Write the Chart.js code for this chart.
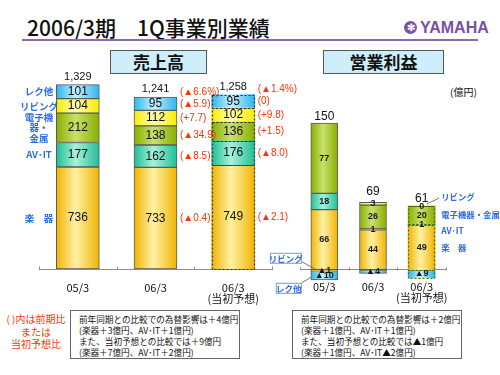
<!DOCTYPE html>
<html lang="ja">
<head>
<meta charset="utf-8">
<title>2006/3期 1Q事業別業績</title>
<script src="https://cdn.jsdelivr.net/npm/chart.js@4.4.1/dist/chart.umd.min.js"></script>
<style>
  html, body { margin: 0; padding: 0; background: #fff; }
  #page { position: relative; width: 500px; height: 375px; overflow: hidden;
          font-family: 'Noto Sans CJK JP', sans-serif; color: #111; }
  #page > * { position: absolute; }
  #title { left: 27px; top: 14px; font-size: 21px; line-height: 26px; font-weight: 500; white-space: nowrap; }
  #rule { left: 22px; top: 39px; width: 456px; height: 2px; background: #8a6bb0; }
  #logo { left: 404px; top: 19px; height: 17px; display: flex; align-items: center; color: #7a4fa6;
          font: bold 16px 'Liberation Sans Narrow', 'Liberation Sans', sans-serif; }
  #logo .mark { width: 13px; height: 13px; border-radius: 50%; background: #7a4fa6; color: #fff;
                font-size: 10px; line-height: 13px; text-align: center; margin-right: 3px; }
  .head { top: 50px; height: 22px; background: #cfeefc; border: 1px solid #555; text-align: center;
          font-size: 17px; font-weight: bold; line-height: 22px; }
  #unit { left: 450px; top: 85px; font-size: 10px; line-height: 14px; }
  #redNote { left: 4px; top: 313px; width: 64px; text-align: center; color: #ff3300; font-size: 10px; line-height: 12.5px; }
  .box { top: 310px; width: 160px; height: 39px; padding: 3px 0 5px 8px; border: 1px solid #666;
         font-size: 8.6px; line-height: 11px; white-space: nowrap; }
  canvas { display: block; }
</style>
</head>
<body>
<div id="page">
  <div id="title">2006/3期　1Q事業別業績</div>
  <div id="rule"></div>
  <div id="logo"><span class="mark">✻</span>YAMAHA</div>
  <div class="head" style="left:110px;width:95px">売上高</div>
  <div class="head" style="left:323px;width:119px">営業利益</div>
  <div id="unit">(億円)</div>
  <div id="redNote">( )内は前期比<br>または<br>当初予想比</div>
  <div class="box" style="left:70px">前年同期との比較での為替影響は＋4億円<br>(楽器＋3億円、AV･IT＋1億円)<br>また、当初予想との比較では＋9億円<br>(楽器＋7億円、AV･IT＋2億円)</div>
  <div class="box" style="left:292px">前年同期との比較での為替影響は＋2億円<br>(楽器＋1億円、AV･IT＋1億円)<br>また、当初予想との比較では▲1億円<br>(楽器＋1億円、AV･IT▲2億円)</div>
  <canvas id="sales" width="300" height="310" style="left:0;top:0"></canvas>
  <canvas id="profit" width="240" height="210" style="left:260px;top:100px"></canvas>
</div>
<script>
const categories = ['05/3', '06/3', ['06/3', '(当初予想)']];
const segmentNames = ['楽器', 'AV･IT', '電子機器・金属', 'リビング', 'レク他'];

// 売上高 (億円), segments bottom -> top
const salesGakki  = [736, 733, 749];
const salesAvit   = [177, 162, 176];
const salesDenshi = [212, 138, 136];
const salesLiving = [104, 112, 102];
const salesRec    = [101, 95, 95];
const salesTotals = [1329, 1241, 1258];
// 前期比 (06/3) / 当初予想比 (06/3 当初予想)
const salesVsPrev  = ['▲0.4', '▲8.5', '▲34.9', '+7.7', '▲5.9'];
const salesVsPlan  = ['▲2.1', '▲8.0', '+1.5', '+9.8', '0'];
const salesTotalVs = ['', '▲6.6%', '▲1.4%'];

// 営業利益 (億円)
const profitGakki  = [66, 44, 49];
const profitAvit   = [18, 1, 1];
const profitDenshi = [77, 26, 20];
const profitLiving = [-1, 3, 0];
const profitRec    = [-10, -4, -9];
const profitTotals = [150, 69, 61];

const salesSideLabels  = ['楽　器', 'AV･IT', ['電子機', '器・', '金属'], 'リビング', 'レク他'];
const profitSideLabels = ['楽　器', 'AV･IT', '電子機器・金属', 'リビング'];

const FONT = "'Noto Sans CJK JP', 'Liberation Sans', sans-serif";
const NUM = "'Liberation Sans', 'Noto Sans CJK JP', sans-serif";
const BLUE = '#2c6ce6';
const RED = '#ff3300';
const SEG_COLORS = [
  ['#f0b400', '#fff1a6'],
  ['#20bd96', '#aaf0da'],
  ['#88ae00', '#cae06c'],
  ['#f5ec00', '#ffffb4'],
  ['#2ab6ee', '#c6f0ff'],
];

// horizontal light-in-the-middle gradient for each bar
function shade(pair, w) {
  return (c) => {
    if (c.type !== 'data' || !c.chart.scales.x) return pair[0];
    const cx = c.chart.scales.x.getPixelForValue(c.dataIndex);
    if (!Number.isFinite(cx)) return pair[0];
    const g = c.chart.ctx.createLinearGradient(cx - w / 2, 0, cx + w / 2, 0);
    g.addColorStop(0, pair[0]);
    g.addColorStop(0.45, pair[1]);
    g.addColorStop(1, pair[0]);
    return g;
  };
}

function makeDatasets(series, w) {
  return series.map((data, i) => ({
    label: segmentNames[i],
    data,
    backgroundColor: shade(SEG_COLORS[i], w),
    borderColor: '#5a5a5a',
    borderWidth: (c) => (c.dataIndex === 2 ? 0 : 1), // forecast bar gets a dotted outline instead
    borderSkipped: false,
    barThickness: w,
  }));
}

function baseOptions(pad, yMin, yMax, tickPad) {
  return {
    responsive: false,
    animation: false,
    events: [],
    layout: { padding: pad },
    plugins: { legend: { display: false }, tooltip: { enabled: false } },
    scales: {
      x: {
        stacked: true,
        position: { y: 0 },
        offset: true,
        grid: { display: false, drawTicks: false },
        border: { display: true, color: '#8c8c8c', width: 1 },
        ticks: { color: '#111', padding: tickPad, maxRotation: 0, autoSkip: false,
                 font: { size: 11, family: FONT, lineHeight: 1.0 } },
      },
      y: { stacked: true, display: false, min: yMin, max: yMax },
    },
  };
}

function text(ctx, s, x, y, font, color, align) {
  ctx.font = font;
  ctx.fillStyle = color;
  ctx.textAlign = align || 'center';
  ctx.textBaseline = 'middle';
  ctx.fillText(s, x, y);
}

function line(ctx, x1, y1, x2, y2, color) {
  ctx.save();
  ctx.strokeStyle = color;
  ctx.lineWidth = 1;
  ctx.beginPath();
  ctx.moveTo(x1, y1);
  ctx.lineTo(x2, y2);
  ctx.stroke();
  ctx.restore();
}

function segMid(p) { return (p.y + p.base) / 2; }

function collect(chart) {
  const cols = [];
  chart.data.datasets.forEach((ds, d) => {
    chart.getDatasetMeta(d).data.forEach((el, j) => {
      (cols[j] = cols[j] || [])[d] = el.getProps(['x', 'y', 'base', 'width'], true);
    });
  });
  return cols;
}

// small upward tick marks at category boundaries
function axisTicks(chart) {
  const xs = chart.scales.x;
  const y0 = Math.round(chart.scales.y.getPixelForValue(0)) + 0.5;
  const step = xs.getPixelForValue(1) - xs.getPixelForValue(0);
  for (let i = 0; i <= categories.length; i++) {
    const x = Math.round(xs.getPixelForValue(0) - step / 2 + i * step) + 0.5;
    line(chart.ctx, x, y0, x, y0 - 3, '#8c8c8c');
  }
}

function dottedBox(ctx, p, color) {
  const top = Math.min(p.y, p.base);
  const bot = Math.max(p.y, p.base);
  ctx.save();
  ctx.setLineDash([2, 2]);
  ctx.strokeStyle = color;
  ctx.lineWidth = 1.2;
  ctx.strokeRect(Math.round(p.x - p.width / 2) + 0.5, Math.round(top) + 0.5, Math.round(p.width) - 1, Math.round(bot - top));
  ctx.restore();
}

function callout(ctx, label, x, y, w, h) {
  ctx.save();
  ctx.fillStyle = '#fff';
  ctx.fillRect(x, y, w, h);
  ctx.strokeStyle = '#7f9cc8';
  ctx.strokeRect(x + 0.5, y + 0.5, w - 1, h - 1);
  ctx.restore();
  text(ctx, label, x + w / 2, y + h / 2, 'bold 8.5px ' + FONT, BLUE);
}

const salesLabels = {
  id: 'salesLabels',
  afterDatasetsDraw(chart) {
    const ctx = chart.ctx;
    const cols = collect(chart);
    axisTicks(chart);
    cols.forEach((col, j) => {
      if (j === 2) col.forEach((p) => dottedBox(ctx, p, '#333'));
      col.forEach((p, d) => text(ctx, String(chart.data.datasets[d].data[j]), p.x, segMid(p), '12px ' + NUM, '#111'));
      const top = Math.min(...col.map((p) => p.y));
      text(ctx, salesTotals[j].toLocaleString('en-US'), col[0].x, top - 8, '11px ' + NUM, '#111');
      const notes = j === 1 ? salesVsPrev : j === 2 ? salesVsPlan : null;
      if (notes) {
        const xr = col[0].x + col[0].width / 2 + 3;
        col.forEach((p, d) => text(ctx, '(' + notes[d] + ')', xr, segMid(p), '10px ' + NUM, RED, 'left'));
        text(ctx, '(' + salesTotalVs[j] + ')', xr, top - 5, '10px ' + NUM, RED, 'left');
      }
    });
    cols[0].forEach((p, d) => {
      const lab = salesSideLabels[d];
      const lines = Array.isArray(lab) ? lab : [lab];
      lines.forEach((s, k) => text(ctx, s, 39, segMid(p) + (k - (lines.length - 1) / 2) * 10.5, 'bold 9.5px ' + FONT, BLUE));
    });
  },
};

const profitLabels = {
  id: 'profitLabels',
  afterDatasetsDraw(chart) {
    const ctx = chart.ctx;
    const cols = collect(chart);
    const y0 = chart.scales.y.getPixelForValue(0);
    axisTicks(chart);
    cols.forEach((col, j) => {
      if (j === 2) col.forEach((p) => dottedBox(ctx, p, '#4b7000'));
      col.forEach((p, d) => {
        const v = chart.data.datasets[d].data[j];
        text(ctx, v < 0 ? '▲' + (-v) : String(v), p.x, segMid(p), 'bold 9px ' + NUM, '#1a1a1a');
      });
      const topP = col.reduce((a, p) => (Math.min(p.y, p.base) < Math.min(a.y, a.base) ? p : a));
      const top = Math.min(topP.y, topP.base);
      const lift = Math.abs(topP.base - topP.y) < 5 ? 11 : 7;
      text(ctx, String(profitTotals[j]), col[0].x, top - lift, '12px ' + NUM, '#111');
    });
    // right-hand segment names next to the forecast bar
    const fc = cols[2];
    const xl = fc[0].x + fc[0].width / 2 + 6;
    const offs = [0, 6, 0, -9];
    profitSideLabels.forEach((s, d) => text(ctx, s, xl, segMid(fc[d]) + offs[d], 'bold 8.4px ' + FONT, BLUE, 'left'));
    line(ctx, fc[3].x + 5, segMid(fc[3]) - 2, xl - 2, segMid(fc[3]) - 8, '#777');
    // callouts for the tiny negative segments of 05/3
    const left0 = cols[0][0].x - cols[0][0].width / 2;
    callout(ctx, 'リビング', left0 - 41, y0 - 17, 32, 11);
    line(ctx, left0 - 9, y0 - 8, left0 + 4, y0 - 1, '#777');
    callout(ctx, 'レク他', left0 - 35, y0 + 13, 26, 11);
    line(ctx, left0 - 9, y0 + 13, left0 + 1, y0 + 7, '#777');
  },
};

new Chart(document.getElementById('sales'), {
  type: 'bar',
  data: {
    labels: categories,
    datasets: makeDatasets([salesGakki, salesAvit, salesDenshi, salesLiving, salesRec], 43),
  },
  options: baseOptions({ left: 39, right: 28, top: 75, bottom: 41 }, 0, 1400, 13),
  plugins: [salesLabels],
});

new Chart(document.getElementById('profit'), {
  type: 'bar',
  data: {
    labels: categories,
    datasets: makeDatasets([profitGakki, profitAvit, profitDenshi, profitLiving, profitRec], 27),
  },
  options: baseOptions({ left: 40, right: 54, top: 15, bottom: 22 }, -20, 170, 12),
  plugins: [profitLabels],
});
</script>
</body>
</html>
